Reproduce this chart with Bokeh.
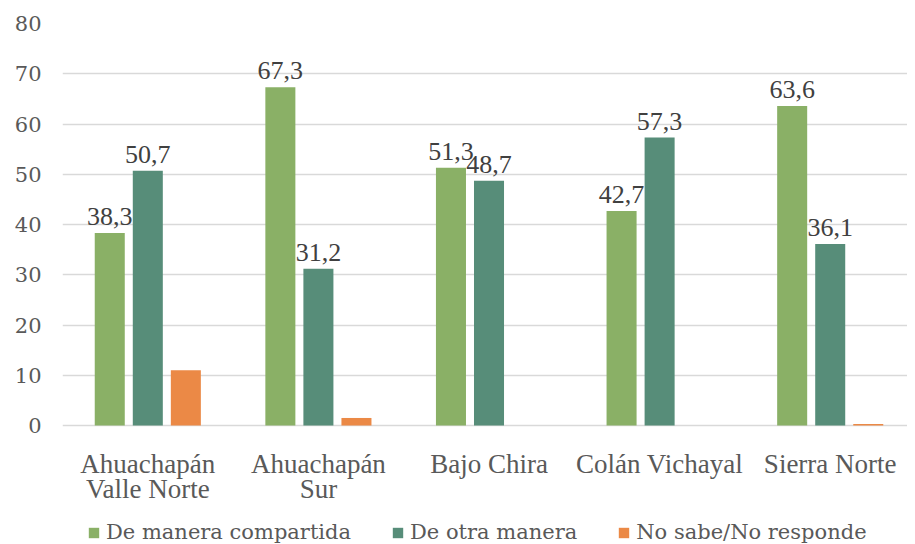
from bokeh.plotting import figure
from bokeh.models import ColumnDataSource, FixedTicker, Legend, LegendItem, Range1d
from bokeh.embed import file_html
from bokeh.resources import INLINE

categories = ["Ahuachapán\nValle Norte", "Ahuachapán\nSur", "Bajo Chira", "Colán Vichayal", "Sierra Norte"]
series_names = ["De manera compartida", "De otra manera", "No sabe/No responde"]
compartida = [38.3, 67.3, 51.3, 42.7, 63.6]
otra = [50.7, 31.2, 48.7, 57.3, 36.1]
no_sabe = [11.0, 1.5, 0.0, 0.0, 0.3]
y_ticks = [0, 10, 20, 30, 40, 50, 60, 70, 80]

colors = ["#8AB066", "#578D79", "#EB8946"]
FONT = "DejaVu Serif"
TXT = "#595959"

# frame extends below zero so the category labels and legend sit inside it
p = figure(frame_width=845, frame_height=521, output_backend="svg", toolbar_location=None,
           x_range=Range1d(0, 4.953), y_range=Range1d(-23.68, 80),
           min_border_left=62, min_border_right=0, min_border_top=23, min_border_bottom=0)
p.outline_line_color = None
p.background_fill_color = "white"
p.border_fill_color = "white"

centers = [i + 0.5 for i in range(len(categories))]
offsets = [-0.223, 0.0, 0.223]
bw = 0.176
renderers = []
for k, vals in enumerate([compartida, otra, no_sabe]):
    src = ColumnDataSource(dict(
        x=[c + offsets[k] for c in centers],
        top=vals,
        lab=[("%.1f" % v).replace(".", ",") for v in vals],
    ))
    r = p.vbar(x="x", top="top", width=bw, source=src, fill_color=colors[k], line_color=None)
    renderers.append(r)
    if k < 2:
        p.text(x="x", y="top", text="lab", source=src, text_align="center", text_baseline="bottom",
               y_offset=-8, text_font=FONT, text_font_size="26px", text_color="#404040")

# category labels (two lines) under the zero line
parts = [c.split("\n") for c in categories]
line1 = [pp[0] for pp in parts]
line2 = [pp[1] if len(pp) > 1 else "" for pp in parts]
cat_src = ColumnDataSource(dict(x=centers, y=[0] * len(centers), l1=line1, l2=line2))
p.text(x="x", y="y", text="l1", source=cat_src, text_align="center", text_baseline="alphabetic",
       y_offset=38, text_font=FONT, text_font_size="27px", text_color=TXT)
p.text(x="x", y="y", text="l2", source=cat_src, text_align="center", text_baseline="alphabetic",
       y_offset=63, text_font=FONT, text_font_size="27px", text_color=TXT)

p.xgrid.grid_line_color = None
p.ygrid.grid_line_color = "#D9D9D9"
p.ygrid.grid_line_width = 1.5
p.yaxis.ticker = FixedTicker(ticks=y_ticks)
p.xaxis.visible = False

p.yaxis.axis_line_color = None
p.yaxis.major_tick_line_color = None
p.yaxis.minor_tick_line_color = None
p.yaxis.major_label_text_font = FONT
p.yaxis.major_label_text_font_size = "21px"
p.yaxis.major_label_text_color = TXT
p.yaxis.major_label_standoff = 15

legend = Legend(items=[LegendItem(label=n, renderers=[r]) for n, r in zip(series_names, renderers)],
                orientation="horizontal", location=(25, 0))
legend.label_text_font = FONT
legend.label_text_font_size = "21px"
legend.label_text_color = TXT
legend.glyph_width = 13
legend.glyph_height = 13
legend.label_standoff = 6
legend.spacing = 40
legend.border_line_color = None
legend.background_fill_alpha = 0
legend.padding = 0
legend.margin = 0
p.add_layout(legend, "center")

open("out.html", "w").write(file_html(p, INLINE))
